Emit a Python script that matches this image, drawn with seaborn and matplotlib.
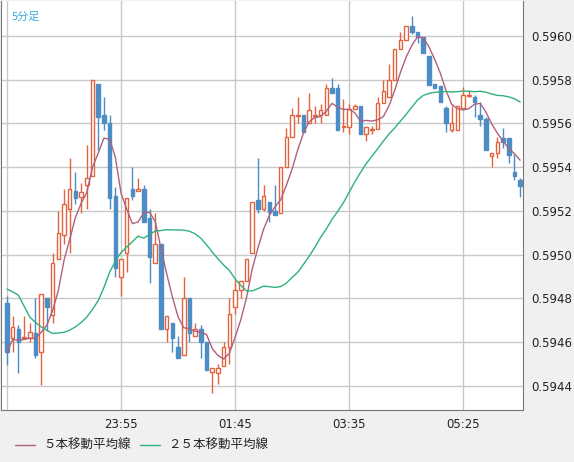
import matplotlib
matplotlib.use("Agg")
import matplotlib.pyplot as plt
import seaborn as sns
import numpy as np
import pandas as pd
from matplotlib.lines import Line2D

sns.set_style("white")
plt.rcParams['font.family'] = ['Noto Sans CJK JP', 'DejaVu Sans']

BASE = 0.5940
PIP = 0.0001
# OHLC in pips above BASE, 5-minute candles
opens = [7.8,6.2,6.6,6.2,6.2,6.4,5.55,8.0,7.25,9.8,10.9,12.1,12.9,12.65,13.2,13.6,17.8,16.4,16.0,12.7,
         9.0,10.1,13.0,12.9,13.0,11.7,9.6,10.5,6.6,6.9,5.8,5.4,8.0,6.3,6.6,6.0,4.65,4.6,4.9,5.8,
         7.6,8.4,8.8,10.1,12.5,12.1,12.4,12.0,11.9,14.0,15.4,16.35,16.4,16.0,16.35,16.4,16.4,17.6,17.6,15.85,
         15.85,16.65,16.8,15.5,15.7,15.75,16.95,17.2,18.0,19.4,19.8,20.45,20.2,19.95,19.1,17.8,17.7,16.7,15.7,15.7,
         16.7,17.25,17.2,16.4,16.2,14.5,14.65,15.35,15.35,13.8,13.4]
highs = [8.1,7.2,6.8,7.2,6.9,8.0,8.2,8.0,10.1,12.0,13.0,14.4,13.8,13.3,15.0,18.0,17.8,17.2,16.4,13.1,
         9.8,12.6,14.0,13.5,13.2,12.1,11.9,10.5,7.2,6.9,6.3,9.0,8.0,6.9,6.8,6.0,4.8,5.0,6.0,8.0,
         8.85,8.8,9.8,12.4,14.4,13.2,12.4,13.2,14.0,15.8,16.7,17.2,16.4,17.4,16.8,16.9,17.8,18.1,17.8,17.1,
         16.9,16.9,16.8,15.85,15.9,17.2,18.0,18.7,19.4,20.2,20.45,20.9,20.2,19.95,19.1,17.8,17.7,16.8,16.8,16.8,
         17.65,17.55,17.3,17.0,16.3,14.65,15.4,15.8,15.35,14.6,13.5]
lows = [4.96,5.55,4.6,6.2,6.0,5.3,4.05,6.5,6.9,9.8,10.5,10.1,12.3,11.9,12.1,13.6,14.8,15.7,12.1,9.0,
        8.1,9.2,12.5,12.9,11.5,8.7,9.6,6.6,6.0,5.55,5.3,5.4,6.0,6.3,5.3,4.75,3.7,4.1,4.9,5.0,
        7.3,8.0,8.8,10.1,11.9,12.0,11.5,11.8,11.9,14.0,15.4,16.0,15.6,16.0,16.0,16.0,16.4,17.4,15.7,15.6,
        15.5,16.65,15.5,15.2,15.5,15.75,16.95,17.2,18.0,19.4,19.8,20.1,19.7,19.2,17.75,17.6,17.0,15.6,15.6,15.7,
        16.7,17.2,16.3,15.9,14.8,14.0,14.4,14.9,14.2,13.4,12.65]
closes = [5.55,6.7,6.0,6.25,6.45,5.4,8.2,7.6,9.6,11.0,12.3,13.0,12.6,12.85,13.5,18.0,16.3,16.0,12.6,9.4,
          9.8,12.6,12.7,13.0,11.5,9.9,10.5,6.6,7.2,6.2,5.3,8.0,6.4,6.6,6.0,4.75,4.8,4.8,5.8,7.3,
          8.4,8.8,9.8,12.4,12.1,12.7,11.95,11.8,14.0,15.4,16.4,16.4,15.6,16.6,16.4,16.6,17.6,17.4,15.7,15.9,
          16.65,16.8,15.5,15.85,15.75,16.95,17.5,18.0,19.4,19.8,20.45,20.2,19.95,19.2,17.75,17.6,17.0,16.0,16.0,16.8,
          17.3,17.3,17.0,16.2,14.8,14.65,15.15,15.15,14.55,13.6,13.15]
# 25-bar average for the bars before a full window exists
ma25_head = [8.43,8.3,8.15,7.65,7.15,6.9,6.7,6.55,6.4,6.42,6.45,6.55,6.7,6.9,7.15,7.5,7.9,8.5,
             9.2,9.7,10.1,10.35,10.6,10.85]
tick_pos = [20, 40, 60, 80]
tick_labels = ["23:55", "01:45", "03:35", "05:25"]
legend_labels = ["５本移動平均線", "２５本移動平均線"]

df = pd.DataFrame({"o": opens, "h": highs, "l": lows, "c": closes})
df = BASE + df * PIP
df["i"] = np.arange(len(df))
df["ma5"] = df["c"].rolling(5, min_periods=1).mean()
ma25 = df["c"].rolling(25).mean().to_numpy()
ma25[:len(ma25_head)] = BASE + np.array(ma25_head) * PIP
df["ma25"] = ma25

UP, DN = "#e2643e", "#4b8dc4"
C5, C25 = "#b0607e", "#2fb27a"

fig = plt.figure(figsize=(5.74, 4.62), dpi=100, facecolor="#f0f0f0")
ax = fig.add_axes([1/574, 52/462, 522/574, 409/462])
ax.set_facecolor("white")

up = df["c"] >= df["o"]
for _, r in df.iterrows():
    isup = r["c"] >= r["o"]
    col = UP if isup else DN
    ax.vlines(r["i"], r["l"], r["h"], color=col, lw=1.0, zorder=2)
    lo, hi = min(r["o"], r["c"]), max(r["o"], r["c"])
    ax.bar(r["i"], max(hi - lo, 0.000003), bottom=lo, width=0.62,
           facecolor="white" if isup else DN, edgecolor=col, lw=1.0, zorder=3)

sns.lineplot(data=df, x="i", y="ma5", ax=ax, color=C5, lw=1.0, zorder=4)
sns.lineplot(data=df, x="i", y="ma25", ax=ax, color=C25, lw=1.0, zorder=4)

ax.set_xlim(-1.05, 90.5)
ax.set_ylim(BASE + 2.9 * PIP, BASE + 21.6 * PIP)
yt = [BASE + k * PIP for k in range(4, 21, 2)]
ax.set_yticks(yt)
ax.set_yticklabels([f"{v:.4f}" for v in yt], fontsize=8.5, color="#222222", family="DejaVu Sans")
ax.yaxis.tick_right()
ax.set_xticks([0] + tick_pos)
ax.set_xticklabels([""] + tick_labels, fontsize=8.5, color="#222222", family="DejaVu Sans")
ax.tick_params(length=0, pad=6)
ax.grid(True, color="#c8c8c8", lw=1.0)
ax.set_axisbelow(True)
ax.set_xlabel(""); ax.set_ylabel("")
for s in ax.spines.values():
    s.set_color("#777777")
ax.spines["top"].set_visible(False)

ax.text(0.02, 0.975, "5分足", transform=ax.transAxes, fontsize=8, color="#3aa8dc", va="top")

yl = 1 - 445/462
for x0, col, lab in [(15, C5, legend_labels[0]), (140, C25, legend_labels[1])]:
    fig.add_artist(Line2D([x0/574, (x0+20)/574], [yl, yl], color=col, lw=1))
    fig.text((x0+28)/574, yl, lab, fontsize=9, color="#222222", va="center")

fig.savefig("out.png", dpi=100, facecolor=fig.get_facecolor())
